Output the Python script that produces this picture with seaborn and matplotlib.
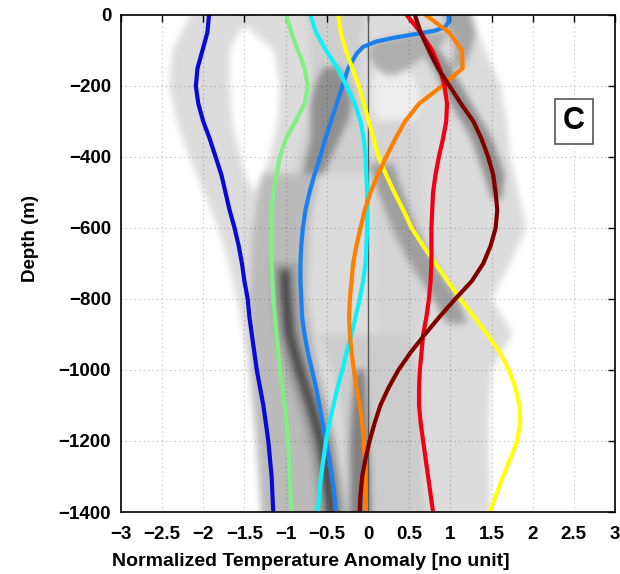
import numpy as np
import pandas as pd
import matplotlib
matplotlib.use("Agg")
import matplotlib.pyplot as plt
import seaborn as sns

# ---------------------------------------------------------------- data
DEPTH = [0, -50, -100, -150, -200, -250, -300, -350, -400, -450, -500, -550,
         -600, -650, -700, -750, -800, -850, -900, -950, -1000, -1050, -1100,
         -1150, -1200, -1250, -1300, -1350, -1400]

prof_blue = [-1.93, -1.95, -2.01, -2.07, -2.09, -2.06, -2.00, -1.92, -1.85, -1.78,
             -1.73, -1.68, -1.62, -1.57, -1.53, -1.50, -1.46, -1.44, -1.41, -1.38,
             -1.35, -1.31, -1.27, -1.24, -1.21, -1.19, -1.17, -1.16, -1.15]

# the second profile has a sharp hook near the surface, so it has its own depths
DEPTH_AZURE = [0, -20, -35, -45, -55, -65, -75, -90, -110, -150, -200, -250, -300,
               -350, -400, -450, -500, -550, -600, -650, -700, -750, -800, -850,
               -900, -950, -1000, -1050, -1100, -1150, -1200, -1250, -1300, -1350,
               -1400]
prof_azure = [0.98, 0.98, 0.93, 0.80, 0.55, 0.30, 0.10, -0.06, -0.14, -0.24, -0.31,
              -0.38, -0.45, -0.52, -0.58, -0.65, -0.71, -0.76, -0.79, -0.81, -0.82,
              -0.82, -0.81, -0.80, -0.77, -0.73, -0.68, -0.63, -0.59, -0.55, -0.51,
              -0.47, -0.44, -0.41, -0.39]

prof_cyan = [-0.70, -0.63, -0.51, -0.37, -0.26, -0.16, -0.09, -0.05, -0.03, -0.02,
             -0.01, -0.01, -0.01, -0.02, -0.03, -0.06, -0.10, -0.15, -0.20, -0.26,
             -0.31, -0.37, -0.42, -0.47, -0.51, -0.54, -0.57, -0.59, -0.61]

prof_green = [-0.99, -0.93, -0.85, -0.77, -0.73, -0.77, -0.88, -1.00, -1.07, -1.11,
              -1.15, -1.17, -1.17, -1.17, -1.17, -1.16, -1.15, -1.13, -1.11, -1.09,
              -1.07, -1.04, -1.01, -0.99, -0.97, -0.96, -0.95, -0.94, -0.93]

prof_yellow = [-0.36, -0.33, -0.27, -0.19, -0.11, -0.05, 0.01, 0.07, 0.13, 0.22,
               0.32, 0.43, 0.53, 0.67, 0.82, 0.97, 1.12, 1.29, 1.45, 1.60, 1.71,
               1.79, 1.84, 1.85, 1.81, 1.73, 1.64, 1.56, 1.48]

prof_orange = [0.70, 0.99, 1.14, 1.15, 0.90, 0.62, 0.45, 0.33, 0.22, 0.12, 0.03,
               -0.04, -0.09, -0.14, -0.18, -0.20, -0.22, -0.23, -0.22, -0.20, -0.17,
               -0.14, -0.10, -0.07, -0.05, -0.04, -0.03, -0.03, -0.03]

prof_red = [0.47, 0.64, 0.78, 0.87, 0.93, 0.96, 0.95, 0.91, 0.86, 0.82, 0.79, 0.78,
            0.77, 0.77, 0.77, 0.76, 0.74, 0.71, 0.67, 0.65, 0.63, 0.62, 0.62, 0.64,
            0.67, 0.70, 0.73, 0.76, 0.79]

prof_maroon = [0.57, 0.64, 0.74, 0.85, 0.99, 1.13, 1.28, 1.38, 1.46, 1.52, 1.55,
               1.57, 1.55, 1.49, 1.40, 1.26, 1.06, 0.87, 0.69, 0.52, 0.37, 0.25,
               0.15, 0.08, 0.02, -0.03, -0.07, -0.09, -0.10]

profile_names = ["blue", "azure", "cyan", "green", "yellow", "orange", "red", "maroon"]
profile_colors = ["#0a0ad8", "#1a80f0", "#10f0f8", "#80f080",
                  "#ffff10", "#ff8000", "#f00010", "#800000"]

# ensemble spread as grey patches: (depths, left edge, right edge, darkness)
D100 = [0, -100, -200, -300, -400, -500, -600, -700, -800, -900, -1000, -1100,
        -1200, -1300, -1400]
spread_layers = [
    # overall envelope
    (D100,
     [-2.16, -2.38, -2.42, -2.33, -2.18, -2.0, -1.83, -1.7, -1.6, -1.52, -1.46,
      -1.42, -1.38, -1.34, -1.31],
     [1.24, 1.42, 1.6, 1.68, 1.72, 1.82, 1.92, 1.72, 1.5, 1.75, 1.5, 1.47, 1.46,
      1.47, 1.48], 0.14),
    # empty pocket between the two coldest profiles
    ([-40, -100, -200, -300, -400, -450, -500],
     [-1.55, -1.68, -1.68, -1.66, -1.55, -1.5, -1.4],
     [-1.45, -1.15, -1.08, -1.1, -1.2, -1.27, -1.38], 0.0),
    # lighter pocket near the surface, warm side
    ([-150, -200, -260, -320],
     [0.1, 0.05, 0.05, 0.15], [0.45, 0.6, 0.62, 0.5], 0.07),
    # mid-depth warm side
    ([-300, -450, -600, -750, -900],
     [0.05, 0.05, 0.05, 0.05, 0.1], [0.6, 0.65, 0.7, 0.7, 0.6], 0.17),
    # deep warm side
    ([-900, -1000, -1100, -1200, -1300, -1400],
     [-0.6, -0.45, -0.35, -0.3, -0.3, -0.3],
     [0.5, 0.6, 0.65, 0.65, 0.65, 0.7], 0.2),
    # deep cold side
    ([-450, -600, -800, -1000, -1200, -1400],
     [-1.3, -1.4, -1.45, -1.42, -1.35, -1.3],
     [-0.6, -0.72, -0.75, -0.6, -0.4, -0.3], 0.27),
    # upper central band
    ([0, -100, -200, -300, -400, -450],
     [-0.75, -0.7, -0.68, -0.75, -0.85, -0.9],
     [-0.05, -0.1, -0.1, -0.05, 0.0, 0.0], 0.19),
    # maroon shadow near the surface
    ([-60, -150, -250, -350, -450, -520],
     [0.55, 0.78, 1.0, 1.25, 1.4, 1.5], [0.75, 1.0, 1.25, 1.5, 1.65, 1.62], 0.44),
    # diagonal shadow beside the yellow profile
    ([-420, -500, -600, -700, -800, -870],
     [0.0, 0.12, 0.28, 0.5, 0.78, 0.95], [0.3, 0.42, 0.58, 0.8, 1.08, 1.2], 0.38),
    # blob where the azure profile turns
    ([-150, -200, -250, -300, -350, -400, -450],
     [-0.55, -0.65, -0.7, -0.7, -0.7, -0.75, -0.8],
     [-0.35, -0.25, -0.2, -0.25, -0.35, -0.45, -0.55], 0.44),
    # shadow under the azure hook
    ([-50, -80, -110, -140, -170],
     [0.6, 0.05, 0.0, 0.05, 0.2], [1.0, 0.9, 0.75, 0.55, 0.35], 0.32),
    # surface patch on the warm side
    ([0, -50, -100, -150],
     [0.9, 1.0, 1.05, 1.0], [1.25, 1.3, 1.25, 1.15], 0.35),
    # column near zero at depth
    ([-1000, -1100, -1200, -1300, -1400],
     [-0.15, -0.2, -0.22, -0.22, -0.22], [-0.05, -0.02, 0.0, 0.02, 0.03], 0.5),
    # dark streak between green and azure at depth (wide, then core)
    ([-700, -800, -900, -1000, -1100, -1200, -1300, -1400],
     [-1.18, -1.16, -1.12, -1.0, -0.86, -0.74, -0.66, -0.61],
     [-0.86, -0.84, -0.8, -0.68, -0.54, -0.42, -0.34, -0.29], 0.38),
    ([-720, -800, -900, -1000, -1100, -1200, -1300, -1400],
     [-1.08, -1.06, -1.02, -0.9, -0.76, -0.64, -0.56, -0.51],
     [-0.96, -0.94, -0.9, -0.78, -0.64, -0.52, -0.44, -0.39], 0.72),
]

x_ticks = [-3, -2.5, -2, -1.5, -1, -0.5, 0, 0.5, 1, 1.5, 2, 2.5, 3]
y_ticks = [0, -200, -400, -600, -800, -1000, -1200, -1400]

# ---------------------------------------------------------------- tables
profiles = {"blue": (DEPTH, prof_blue), "azure": (DEPTH_AZURE, prof_azure),
            "cyan": (DEPTH, prof_cyan), "green": (DEPTH, prof_green),
            "yellow": (DEPTH, prof_yellow), "orange": (DEPTH, prof_orange),
            "red": (DEPTH, prof_red), "maroon": (DEPTH, prof_maroon)}
df = pd.concat([pd.DataFrame({"depth": profiles[n][0], "anomaly": profiles[n][1],
                              "profile": n}) for n in profile_names],
               ignore_index=True)

# rasterise the spread patches into a soft darkness field
gx = np.linspace(-3, 3, 600)
gd = np.linspace(0, -1400, 700)
field = np.zeros((gd.size, gx.size))
for depths, left, right, dark in spread_layers:
    d = np.asarray(depths, float)
    o = np.argsort(d)
    lo = np.interp(gd, d[o], np.asarray(left, float)[o], left=np.nan, right=np.nan)
    hi = np.interp(gd, d[o], np.asarray(right, float)[o], left=np.nan, right=np.nan)
    ok = ~np.isnan(lo)
    m = ok[:, None] & (gx[None, :] >= np.nan_to_num(lo)[:, None]) & \
        (gx[None, :] <= np.nan_to_num(hi)[:, None])
    field[m] = dark


def smooth(a, sigma, axis):
    r = int(3 * sigma)
    k = np.exp(-0.5 * (np.arange(-r, r + 1) / sigma) ** 2)
    k /= k.sum()
    pad = [(0, 0), (0, 0)]
    pad[axis] = (r, r)
    p = np.pad(a, pad, mode="edge")
    return np.apply_along_axis(lambda v: np.convolve(v, k, mode="valid"), axis, p)


field = smooth(smooth(field, 4.0, 1), 5.0, 0)
rgba = np.zeros(field.shape + (4,))
rgba[..., 3] = np.clip(field, 0, 1)

# ---------------------------------------------------------------- figure
sns.set_theme(style="white")
plt.rcParams["font.family"] = ["Liberation Sans", "DejaVu Sans"]
plt.rcParams["font.weight"] = "bold"
plt.rcParams["text.color"] = "black"
plt.rcParams["axes.labelcolor"] = "black"

fig = plt.figure(figsize=(6.2, 5.74), dpi=100)
ax = fig.add_axes([0.195, 0.108, 0.797, 0.866])

ax.imshow(rgba, extent=(-3, 3, -1400, 0), origin="upper", aspect="auto",
          interpolation="bilinear", zorder=1)
ax.axvline(0, color="#5a5a5a", lw=1.0, zorder=2)

sns.lineplot(data=df, x="anomaly", y="depth", hue="profile",
             hue_order=profile_names, palette=profile_colors, orient="y",
             estimator=None, sort=True, lw=3.0, legend=False, ax=ax, zorder=3,
             solid_joinstyle="round", solid_capstyle="round")

ax.set_xlim(-3, 3)
ax.set_ylim(-1400, 0)
ax.set_xticks(x_ticks)
ax.set_xticklabels([f"{t:g}".replace("-", "\u2212") for t in x_ticks])
ax.set_yticks(y_ticks)
ax.set_yticklabels([f"{t:g}".replace("-", "\u2212") for t in y_ticks])
ax.grid(True, linestyle=(0, (1, 3)), color="#bdbdbd", lw=0.8)
ax.set_axisbelow(True)
ax.tick_params(direction="in", length=5, width=1, top=True, right=True,
               labelsize=13.5, colors="black")
ax.tick_params(axis="x", pad=10)
ax.tick_params(axis="y", pad=7)
for sp in ax.spines.values():
    sp.set_color("black")
    sp.set_linewidth(1.2)
    sp.set_zorder(5)

ax.set_xlabel("Normalized Temperature Anomaly [no unit]", fontsize=14,
              fontweight="bold", color="black")
ax.xaxis.set_label_coords(0.385, -0.082)
ax.set_ylabel("Depth (m)", fontsize=13.5, fontweight="bold", color="black")
ax.yaxis.set_label_coords(-0.165, 0.55)

ax.text(2.5, -300, "C", fontsize=22, fontweight="bold", ha="center", va="center",
        color="black", zorder=6,
        bbox=dict(boxstyle="square,pad=0.25", fc="white", ec="#555555", lw=1.2))

fig.savefig("out.png", dpi=100)
